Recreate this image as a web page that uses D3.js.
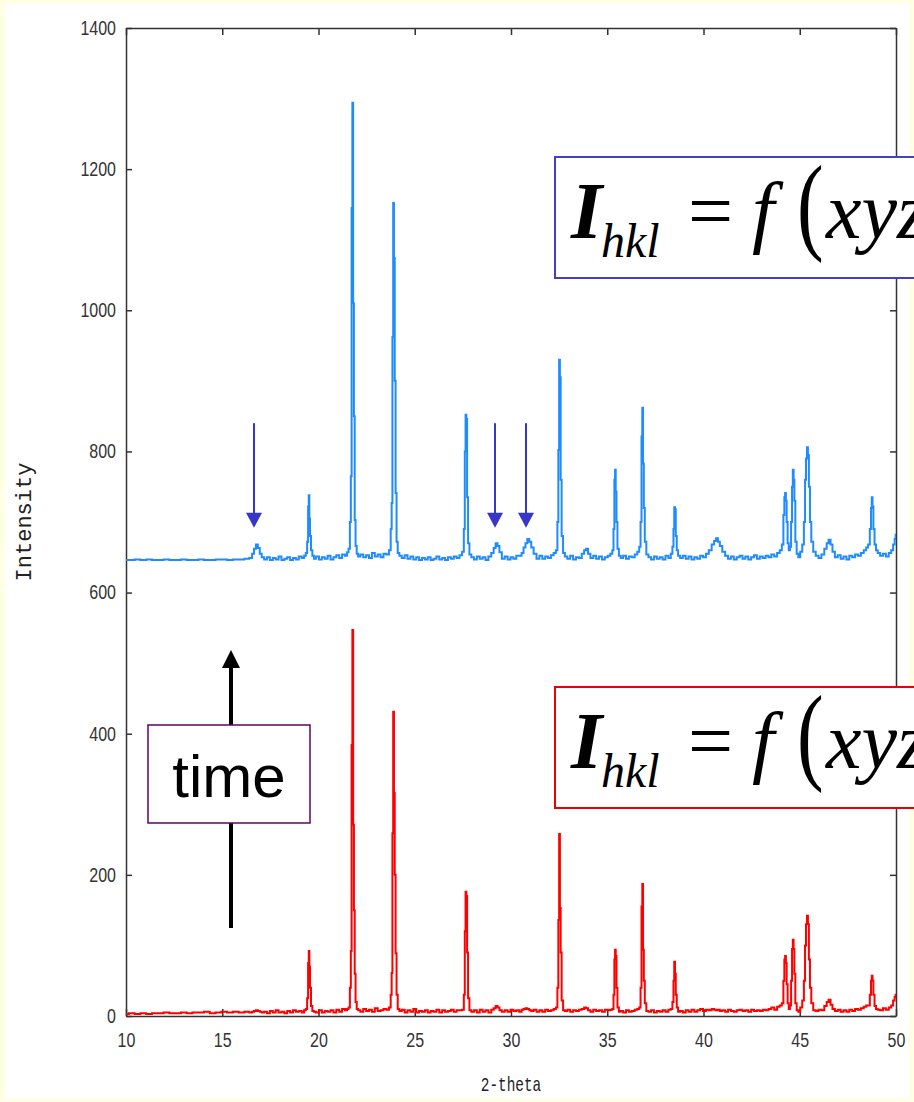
<!DOCTYPE html>
<html>
<head>
<meta charset="utf-8">
<script src="https://d3js.org/d3.v7.min.js"></script>
<title>XRD pattern - intensity vs 2-theta</title>
<style>
  body { margin:0; background:#FFFFE6; }
  svg { display:block; }
  .tick text { font-family:"Liberation Sans",Arial,sans-serif; font-size:20px; fill:#333; }
  .axis path, .axis line { stroke:#333; stroke-width:1.5; }
  .axtitle { font-family:"Liberation Mono","DejaVu Sans Mono",monospace; fill:#222; }
  .serif { font-family:"Liberation Serif","Times New Roman",serif; fill:#000; }
</style>
</head>
<body>
<svg id="chart" width="914" height="1102"></svg>
<script>
// 2-theta grid shared by both scans (denser round the peaks)
const twoTheta = [
  10.0, 10.3, 10.6, 10.9, 11.2, 11.5, 11.8, 12.1, 12.4, 12.7, 13.0, 13.3, 13.6, 13.9, 14.2, 14.5, 14.8, 15.1, 15.4, 15.7, 16.0, 16.3,
  16.5, 16.6, 16.7, 16.8, 16.9, 17.0, 17.1,
  17.25, 17.4, 17.55, 17.7, 17.85, 18.0, 18.15, 18.3, 18.45, 18.6, 18.75, 18.9, 19.05, 19.2, 19.3,
  19.38, 19.44, 19.48, 19.51, 19.54, 19.58, 19.64, 19.72,
  19.8, 19.95, 20.1, 20.25, 20.4, 20.55, 20.7, 20.85, 21.0, 21.15, 21.3, 21.45, 21.52,
  21.6, 21.66, 21.7, 21.74, 21.78, 21.82, 21.86, 21.9, 21.95, 22.02,
  22.1, 22.25, 22.4, 22.55, 22.7, 22.85, 23.0, 23.15, 23.3, 23.45, 23.6,
  23.72, 23.78, 23.82, 23.86, 23.9, 23.94, 23.98, 24.03, 24.08, 24.15,
  24.25, 24.4, 24.55, 24.7, 24.85, 25.0, 25.15, 25.3, 25.45, 25.6, 25.75, 25.9, 26.05, 26.2, 26.35, 26.5, 26.65, 26.8, 26.95, 27.1, 27.25, 27.4,
  27.52, 27.58, 27.62, 27.66, 27.7, 27.74, 27.8, 27.88,
  28.0, 28.15, 28.3, 28.45, 28.6, 28.75, 28.9, 29.05, 29.15, 29.25, 29.35, 29.45, 29.6, 29.75, 29.9, 30.05, 30.2, 30.35, 30.5, 30.6, 30.7, 30.8, 30.9, 31.0, 31.1, 31.25, 31.4, 31.55, 31.7, 31.85, 32.0, 32.15, 32.28,
  32.38, 32.44, 32.48, 32.52, 32.56, 32.6, 32.66, 32.75,
  32.85, 33.0, 33.15, 33.3, 33.45, 33.6, 33.75, 33.85, 33.95, 34.05, 34.2, 34.35, 34.5, 34.65, 34.8, 34.95, 35.1, 35.22,
  35.3, 35.35, 35.39, 35.42, 35.46, 35.5, 35.56, 35.65,
  35.75, 35.9, 36.05, 36.2, 36.35, 36.5, 36.62,
  36.7, 36.76, 36.8, 36.84, 36.88, 36.92, 36.98, 37.08,
  37.2, 37.35, 37.5, 37.65, 37.8, 37.95, 38.1, 38.25, 38.35,
  38.42, 38.46, 38.5, 38.54, 38.58, 38.64, 38.72,
  38.85, 39.0, 39.15, 39.3, 39.45, 39.6, 39.75, 39.9, 40.05, 40.2, 40.35, 40.5, 40.6, 40.7, 40.8, 40.9, 41.05, 41.2, 41.35, 41.5, 41.65, 41.8, 41.95, 42.1, 42.25, 42.4, 42.55, 42.7, 42.85, 43.0, 43.15, 43.3, 43.45, 43.6, 43.75, 43.9, 44.02,
  44.12, 44.18, 44.22, 44.26, 44.3, 44.34, 44.4, 44.46, 44.52, 44.58, 44.62, 44.66, 44.7, 44.74, 44.8, 44.88, 44.97, 45.08, 45.18, 45.25, 45.3, 45.35, 45.4, 45.45, 45.5, 45.56, 45.64, 45.76,
  45.9, 46.05, 46.2, 46.35, 46.45, 46.55, 46.65, 46.75, 46.9, 47.05, 47.2, 47.35, 47.5, 47.65, 47.8, 47.95, 48.1, 48.25, 48.4, 48.5,
  48.6, 48.68, 48.72, 48.76, 48.8, 48.85, 48.92, 49.0,
  49.1, 49.25, 49.4, 49.55, 49.7, 49.8, 49.9, 49.96, 50.0
];

// later scan (blue, offset upwards)
const laterIntensity = [
  646, 646, 647, 646, 647, 646, 646, 647, 646, 646, 647, 646, 646, 647, 646, 646, 647, 647, 646, 647, 647, 648,
  649, 655, 662, 668, 663, 655, 650,
  647, 650, 646, 649, 647, 651, 646, 648, 650, 646, 649, 647, 651, 649, 652,
  656, 672, 722, 738, 705, 680, 660, 652,
  648, 651, 647, 650, 648, 652, 647, 650, 653, 649, 654, 652, 657,
  662, 700, 765, 1145, 1294, 1010, 850, 703, 666, 655,
  651, 654, 650, 653, 649, 656, 651, 654, 650, 655, 654,
  660, 690, 727, 962, 1152, 1074, 900, 741, 672, 656,
  652, 649, 653, 648, 651, 647, 650, 646, 649, 647, 650, 646, 648, 651, 647, 649, 646, 650, 648, 651, 649, 653,
  658, 690, 800, 852, 846, 735, 670, 654,
  650, 647, 651, 648, 650, 646, 651, 656, 663, 670, 666, 657, 648, 651, 647, 650, 648, 652, 652, 656, 664, 670, 676, 672, 664, 655, 648, 652, 648, 651, 649, 653, 656,
  660, 700, 802, 930, 905, 760, 680, 656,
  651, 648, 652, 647, 650, 649, 655, 660, 662, 655, 649, 652, 648, 651, 647, 650, 652, 655,
  660, 690, 760, 774, 743, 700, 662, 652,
  649, 652, 648, 651, 650, 654, 658,
  665, 700, 821, 862, 783, 720, 672, 654,
  650, 647, 651, 648, 650, 647, 652, 649, 655,
  665, 690, 721, 718, 680, 660, 652,
  649, 652, 648, 651, 647, 650, 648, 652, 650, 655, 660, 668, 673, 677, 672, 666, 658, 652, 648, 651, 647, 650, 652, 648, 651, 647, 650, 653, 648, 651, 649, 652, 650, 654, 651, 656, 660,
  668, 710, 735, 741, 730, 700, 670, 660, 665, 700, 750, 774, 760, 730, 672, 655, 650, 658, 668, 700, 760, 790, 806, 795, 750, 700, 672, 658,
  652, 649, 654, 662, 670, 675, 668, 658, 650, 653, 648, 651, 647, 652, 650, 654, 652, 656, 660, 664,
  668, 690, 720, 735, 722, 690, 668, 660,
  656, 652, 655, 651, 656, 660, 668, 676, 682
];

// early scan (red)
const earlyIntensity = [
  3, 4, 3, 4, 3, 4, 4, 5, 4, 4, 5, 4, 5, 5, 6, 4, 5, 6, 5, 6, 5, 6,
  5, 6, 7, 8, 7, 6, 5,
  6, 4, 7, 5, 8, 5, 6, 4, 7, 5, 8, 6, 7, 5, 8,
  10, 25, 75, 92, 70, 40, 14, 7,
  6, 5, 8, 5, 7, 6, 8, 5, 9, 6, 10, 8, 10,
  12, 40, 92, 384, 547, 271, 150, 60, 20, 10,
  8, 6, 10, 7, 9, 6, 11, 7, 8, 10, 9,
  12, 30, 61, 259, 431, 316, 200, 89, 30, 10,
  7, 9, 5, 8, 6, 10, 5, 7, 6, 8, 5, 7, 6, 9, 5, 8, 6, 7, 9, 6, 8, 8,
  9, 30, 120, 176, 170, 90, 25, 8,
  6, 8, 5, 9, 6, 8, 5, 9, 11, 14, 12, 8, 6, 8, 6, 9, 7, 8, 6, 9, 10, 11, 10, 8, 7, 9, 6, 8, 6, 9, 7, 8, 10,
  12, 40, 136, 258, 153, 90, 22, 8,
  7, 9, 6, 8, 7, 9, 10, 12, 11, 8, 6, 9, 7, 8, 6, 9, 8, 9,
  10, 30, 80, 94, 85, 40, 12, 6,
  7, 5, 8, 6, 7, 9, 10,
  12, 40, 155, 187, 94, 50, 18, 7,
  6, 8, 5, 7, 6, 8, 6, 9, 10,
  20, 50, 77, 60, 30, 12, 6,
  7, 5, 8, 6, 9, 6, 8, 10, 7, 9, 8, 10, 9, 8, 9, 7, 8, 6, 9, 7, 6, 8, 9, 7, 8, 6, 9, 7, 8, 7, 9, 8, 10, 12, 9, 13, 15,
  18, 50, 80, 85, 75, 45, 18, 10, 15, 50, 95, 108, 95, 60, 18, 8, 6, 12, 22, 50, 100, 130, 142, 130, 80, 40, 18, 8,
  7, 9, 8, 14, 20, 23, 16, 10, 7, 9, 6, 8, 6, 9, 7, 10, 9, 11, 13, 15,
  15, 30, 50, 57, 50, 30, 14, 10,
  9, 8, 11, 9, 12, 15, 22, 27, 30
];

if (twoTheta.length !== laterIntensity.length || twoTheta.length !== earlyIntensity.length) {
  throw new Error("length mismatch " + twoTheta.length + " " + laterIntensity.length + " " + earlyIntensity.length);
}

const xTicks = [10, 15, 20, 25, 30, 35, 40, 45, 50];
const yTicks = [0, 200, 400, 600, 800, 1000, 1200, 1400];
// new reflections marked with arrows in the later scan
const arrowPeaks = [16.65, 29.17, 30.78];
const arrowTop = 840, arrowTip = 692;

const svg = d3.select("#chart");

// white slide panel on the yellow background
svg.append("rect").attr("x", 5).attr("y", 4).attr("width", 904).attr("height", 1094).attr("fill", "#fff");

const plotLeft = 126, plotRight = 896, plotTop = 28, plotBottom = 1016;

const x = d3.scaleLinear().domain([10, 50]).range([plotLeft, plotRight]);
const y = d3.scaleLinear().domain([0, 1400]).range([plotBottom, plotTop]);

// frame with inward ticks on all four sides
const squeeze = 0.8;   // tick labels are a narrow font in the original
svg.append("g").attr("class", "axis").attr("transform", "translate(0," + plotBottom + ")")
  .call(d3.axisBottom(x).tickValues(xTicks).tickFormat(d3.format("d")).tickSizeInner(-7).tickSizeOuter(0).tickPadding(17))
  .selectAll("text").attr("transform", "scale(" + squeeze + ",1)");
svg.append("g").attr("class", "axis").attr("transform", "translate(0," + plotTop + ")")
  .call(d3.axisTop(x).tickValues(xTicks).tickSizeInner(-7).tickSizeOuter(0).tickFormat(""));
svg.append("g").attr("class", "axis").attr("transform", "translate(" + plotLeft + ",0)")
  .call(d3.axisLeft(y).tickValues(yTicks).tickFormat(d3.format("d")).tickSizeInner(-6).tickSizeOuter(0).tickPadding(10))
  .selectAll("text").attr("transform", "scale(" + squeeze + ",1)").attr("x", -10 / squeeze);
svg.append("g").attr("class", "axis").attr("transform", "translate(" + plotRight + ",0)")
  .call(d3.axisRight(y).tickValues(yTicks).tickSizeInner(-6).tickSizeOuter(0).tickFormat(""));

svg.append("text").attr("class", "axtitle").attr("font-size", 22)
  .attr("transform", "translate(31,522) rotate(-90)").attr("text-anchor", "middle").text("Intensity");
svg.append("text").attr("class", "axtitle").attr("font-size", 20)
  .attr("transform", "translate(511,1091) scale(0.72,1)").attr("text-anchor", "middle").text("2-theta");

// clip the scans to the plot frame
svg.append("clipPath").attr("id", "plotclip").append("rect")
  .attr("x", plotLeft).attr("y", plotTop).attr("width", plotRight - plotLeft).attr("height", plotBottom - plotTop);

// step curve gives the blocky look of the diffractometer trace
const line = d3.line().x(d => x(d[0])).y(d => y(d[1])).curve(d3.curveStep);

svg.append("path").datum(twoTheta.map((t, i) => [t, earlyIntensity[i]]))
  .attr("clip-path", "url(#plotclip)")
  .attr("d", line).attr("fill", "none").attr("stroke", "#FF0000").attr("stroke-width", 2);

svg.append("path").datum(twoTheta.map((t, i) => [t, laterIntensity[i]]))
  .attr("clip-path", "url(#plotclip)")
  .attr("d", line).attr("fill", "none").attr("stroke", "#1E8CFF").attr("stroke-width", 2);

// arrows pointing to the new peaks
arrowPeaks.forEach(function(p) {
  const ax = x(p), tipY = y(arrowTip);
  svg.append("line").attr("x1", ax).attr("x2", ax).attr("y1", y(arrowTop)).attr("y2", tipY - 12)
    .attr("stroke", "#3636C8").attr("stroke-width", 2);
  svg.append("path").attr("d", "M" + (ax - 8) + "," + (tipY - 15) + "L" + (ax + 8) + "," + (tipY - 15) + "L" + ax + "," + tipY + "Z")
    .attr("fill", "#3636C8");
});

// time arrow with its label box
svg.append("line").attr("x1", 231).attr("x2", 231).attr("y1", 928).attr("y2", 664)
  .attr("stroke", "#000").attr("stroke-width", 4);
svg.append("path").attr("d", "M222,668L240,668L231,650Z").attr("fill", "#000");
svg.append("rect").attr("x", 148).attr("y", 725).attr("width", 162).attr("height", 98)
  .attr("fill", "#fff").attr("stroke", "#660066").attr("stroke-width", 1.5);
svg.append("text").attr("x", 229).attr("y", 797).attr("text-anchor", "middle")
  .attr("font-family", "'Liberation Sans', Arial, sans-serif").attr("font-size", 60).text("time");

// I_hkl = f(xyz) boxes, cut off by the right edge as in the slide
function formula(boxTop, colour) {
  svg.append("rect").attr("x", 555).attr("y", boxTop).attr("width", 400).attr("height", 121)
    .attr("fill", "#fff").attr("stroke", colour).attr("stroke-width", 2);
  const t = svg.append("text").attr("class", "serif").attr("y", boxTop + 81).attr("font-size", 80);
  t.append("tspan").attr("x", 571).attr("font-style", "italic").attr("font-weight", "bold").text("I");
  t.append("tspan").attr("x", 601).attr("dy", 19).attr("font-size", 48).attr("font-style", "italic").text("hkl");
  t.append("tspan").attr("x", 688).attr("dy", -19).text("=");
  t.append("tspan").attr("x", 752).attr("font-style", "italic").text("f");
  // tall bracket: normal bracket stretched vertically
  svg.append("text").attr("class", "serif").attr("font-size", 80)
    .attr("transform", "translate(797," + (boxTop + 82.5) + ") scale(1,1.35)").text("(");
  svg.append("text").attr("class", "serif").attr("x", 826).attr("y", boxTop + 81)
    .attr("font-size", 80).attr("font-style", "italic").text("xyz)");
}
formula(157, "#4040C8");
formula(687, "#EE0000");
</script>
</body>
</html>
